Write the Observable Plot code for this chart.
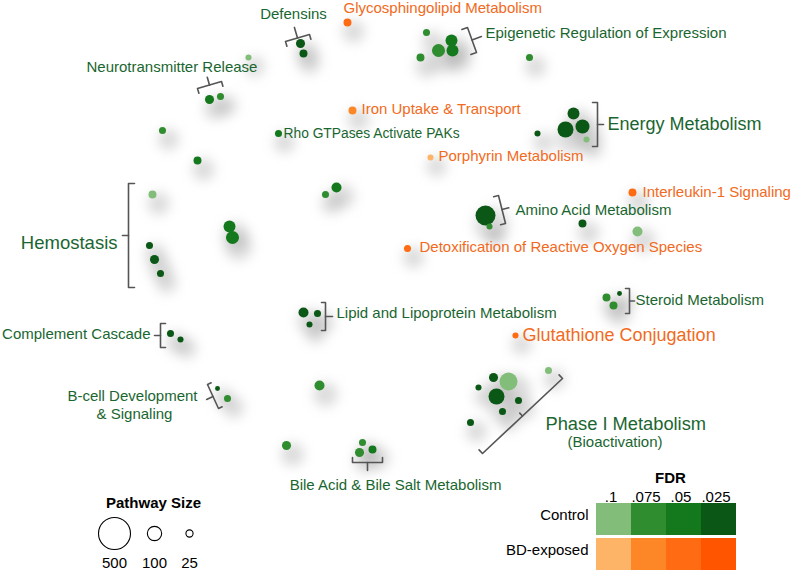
<!DOCTYPE html>
<html><head><meta charset="utf-8">
<script src="https://cdn.jsdelivr.net/npm/d3@7"></script>
<script src="https://cdn.jsdelivr.net/npm/@observablehq/plot@0.6"></script>
<style>body{margin:0;background:#fff}#chart svg{display:block}</style>
</head><body><div id="chart"></div>
<script>
const C = "Control", B = "BD-exposed";
const fdrLevels = [".1", ".075", ".05", ".025"];
const groups = [C, B];
const controlColors = ["#82bd7a", "#2f8c2f", "#14781c", "#0b5716"];
const exposedColors = ["#fdb466", "#fd8726", "#fe6b12", "#ff5500"];
const greenText = "#1a6630";
const orangeText = "#f26a21";

// pathway bubbles: [x, y, pathway size, group, FDR]
const pathways = [
  [347, 22, 31, B, ".05"],
  [300, 43, 40, C, ".025"], [303, 53, 31, C, ".025"],
  [248, 57, 18, C, ".1"],
  [209, 99, 40, C, ".05"], [220, 96, 24, C, ".075"],
  [352, 110, 31, B, ".075"],
  [162, 130, 24, C, ".075"], [197, 160, 31, C, ".05"], [278, 133, 24, C, ".05"],
  [325, 194, 24, C, ".075"], [336, 187, 49, C, ".05"],
  [152, 194, 31, C, ".1"], [149, 245, 24, C, ".025"], [154, 259, 40, C, ".025"], [160, 273, 24, C, ".025"],
  [229, 226, 70, C, ".05"], [232, 237, 83, C, ".05"],
  [426, 32, 24, C, ".075"], [420, 57, 31, C, ".075"], [438, 50, 83, C, ".075"], [451, 40, 70, C, ".05"], [452, 50, 70, C, ".05"],
  [529, 57, 24, C, ".075"],
  [573, 113, 70, C, ".025"], [565, 129, 125, C, ".025"], [582, 126, 96, C, ".025"], [586, 139, 18, C, ".1"], [537, 133, 18, C, ".025"],
  [430, 157, 18, B, ".1"],
  [632, 192, 31, B, ".05"],
  [485, 215, 195, C, ".025"], [489, 226, 18, C, ".075"], [582, 223, 31, C, ".025"], [637, 231, 49, C, ".1"],
  [407, 248, 24, B, ".05"],
  [303, 312, 49, C, ".025"], [317, 313, 24, C, ".025"], [309, 324, 18, C, ".025"],
  [170, 333, 24, C, ".025"], [180, 339, 18, C, ".025"],
  [217, 388, 12, C, ".025"], [227, 398, 24, C, ".075"],
  [319, 385, 49, C, ".075"], [286, 445, 40, C, ".075"],
  [362, 442, 24, C, ".075"], [359, 452, 40, C, ".075"], [372, 449, 31, C, ".05"],
  [606, 297, 31, C, ".075"], [619, 293, 12, C, ".025"], [613, 305, 31, C, ".075"],
  [515, 335, 18, B, ".05"],
  [508, 381, 158, C, ".1"], [493, 377, 40, C, ".025"], [478, 387, 18, C, ".025"], [496, 396, 125, C, ".025"],
  [518, 400, 24, C, ".025"], [502, 411, 24, C, ".025"], [470, 422, 24, C, ".025"], [548, 370, 24, C, ".1"]
];

// labels: [text, x, y, anchor, font size, group]
const labels = [
  ["Defensins", 293, 14, "middle", 15, C],
  ["Glycosphingolipid Metabolism", 343, 8, "start", 15, B],
  ["Epigenetic Regulation of Expression", 485, 33, "start", 15, C],
  ["Neurotransmitter Release", 86, 67, "start", 15, C],
  ["Iron Uptake & Transport", 361, 109, "start", 15, B],
  ["Rho GTPases Activate PAKs", 283, 133, "start", 13.8, C],
  ["Energy Metabolism", 607, 124, "start", 18, C],
  ["Porphyrin Metabolism", 438, 156, "start", 15, B],
  ["Interleukin-1 Signaling", 642, 192, "start", 15, B],
  ["Amino Acid Metabolism", 515, 210, "start", 15, C],
  ["Detoxification of Reactive Oxygen Species", 419, 247, "start", 15, B],
  ["Hemostasis", 117, 243, "end", 18.5, C],
  ["Lipid and Lipoprotein Metabolism", 336, 313, "start", 15, C],
  ["Steroid Metabolism", 635, 300, "start", 15, C],
  ["Complement Cascade", 150, 334, "end", 15, C],
  ["Glutathione Conjugation", 522, 335, "start", 18, B],
  ["B-cell Development", 197, 396, "end", 15, C],
  ["& Signaling", 134, 414, "middle", 15, C],
  ["Phase I Metabolism", 545, 424, "start", 18.3, C],
  ["(Bioactivation)", 567, 442, "start", 15, C],
  ["Bile Acid & Bile Salt Metabolism", 395, 485, "middle", 15, C]
];

// brackets: [x1, y1, x2, y2, side, tick length, stem length]
const brackets = [
  [285, 41, 309, 34, 1, 5, 11],
  [197, 88, 221, 81, 1, 5, 8],
  [467, 27, 476, 52, 1, 6, 10],
  [597, 102, 597, 146, 1, 5, 6],
  [498, 195, 505, 223, 1, 5, 7],
  [128, 183, 128, 287, -1, 6, 6],
  [160, 323, 160, 347, -1, 5, 6],
  [325, 302, 325, 330, 1, 4, 7],
  [207, 384, 218, 408, -1, 4, 7],
  [352, 462, 382, 462, -1, 5, 8],
  [629, 288, 629, 313, 1, 4, 5],
  [562, 378, 482, 453, 1, 5, -4]
];

const sizeLegend = [500, 100, 25];
const sizeLegendX = [114, 154, 189];

// ---- derived tables ----
const W = 792, H = 570;
const colorDomain = groups.flatMap(g => fdrLevels.map(f => g + " " + f));
const colorRange = [...controlColors, ...exposedColors];
const dots = pathways.map(([x, y, size, g, f]) => ({x, y, size, key: g + " " + f}));

const bracketPts = [];
brackets.forEach(([x1, y1, x2, y2, side, t, s], i) => {
  const dx = x2 - x1, dy = y2 - y1, L = Math.hypot(dx, dy);
  const nx = -dy / L * side, ny = dx / L * side;
  const mx = (x1 + x2) / 2, my = (y1 + y2) / 2;
  [[x1 + nx * t, y1 + ny * t], [x1, y1], [x2, y2], [x2 + nx * t, y2 + ny * t]]
    .forEach(([x, y]) => bracketPts.push({x, y, id: "b" + i}));
  [[mx, my], [mx - nx * s, my - ny * s]]
    .forEach(([x, y]) => bracketPts.push({x, y, id: "s" + i}));
});

const cellX0 = 596, cellW = 35;
const rowY = {[C]: [503, 535], [B]: [538, 570]};
const fdrCells = groups.flatMap(g => fdrLevels.map((f, i) => ({
  x1: cellX0 + i * cellW, x2: cellX0 + (i + 1) * cellW, y1: rowY[g][0], y2: rowY[g][1], key: g + " " + f
})));
const fdrTicks = fdrLevels.map((f, i) => ({f, x: cellX0 + (i + 0.5) * cellW - 3}));
const rowLabels = groups.map(g => ({g, y: (rowY[g][0] + rowY[g][1]) / 2 - 4}));
const sizeItems = sizeLegend.map((s, i) => ({s, x: sizeLegendX[i]}));

const font = "Liberation Sans, Arial, Helvetica, sans-serif";
const shadowFill = "#8a8a8b";

const plot = Plot.plot({
  width: W, height: H, margin: 0,
  style: {fontFamily: font, background: "#fff"},
  x: {domain: [0, W], range: [0, W], axis: null},
  y: {domain: [0, H], range: [0, H], axis: null},
  r: {type: "sqrt", domain: [0, 500], range: [0, 16]},
  color: {domain: colorDomain, range: colorRange},
  marks: [
    Plot.dot(dots, {x: "x", y: "y", r: d => (Math.sqrt(d.size) + 10) ** 2, fill: shadowFill, fillOpacity: 0.3, dx: 6, dy: 9}),
    Plot.line(bracketPts, {x: "x", y: "y", z: "id", stroke: "#555", strokeWidth: 1.6}),
    Plot.dot(dots, {x: "x", y: "y", r: "size", fill: "key"}),
    ...labels.map(([text, x, y, anchor, size, g]) =>
      Plot.text([{text, x, y}], {x: "x", y: "y", text: "text", textAnchor: anchor, fontSize: size,
        fill: g === C ? greenText : orangeText})),
    // pathway size legend
    Plot.text([{t: "Pathway Size"}], {x: () => 153, y: () => 503, text: "t", fontWeight: "bold", fontSize: 15, fill: "#000"}),
    Plot.dot(sizeItems, {x: "x", y: () => 533, r: "s", stroke: "#000", fill: "#fff", strokeWidth: 1.1}),
    Plot.text(sizeItems, {x: "x", y: () => 563, text: d => String(d.s), fontSize: 15, fill: "#000"}),
    // FDR legend
    Plot.rect(fdrCells, {x1: "x1", x2: "x2", y1: "y1", y2: "y2", fill: "key"}),
    Plot.text([{t: "FDR"}], {x: () => 670, y: () => 478, text: "t", fontWeight: "bold", fontSize: 15, fill: "#000"}),
    Plot.text(fdrTicks, {x: "x", y: () => 497, text: "f", fontSize: 15, fill: "#000"}),
    Plot.text(rowLabels, {x: () => 588, y: "y", text: "g", textAnchor: "end", fontSize: 15, fill: "#000"})
  ]
});
const shadowG = d3.select(plot).selectAll("g").filter(function () {
  return this.getAttribute("fill") === shadowFill;
});
shadowG.style("filter", "blur(6px)");
document.getElementById("chart").append(plot);
</script>
</body></html>
